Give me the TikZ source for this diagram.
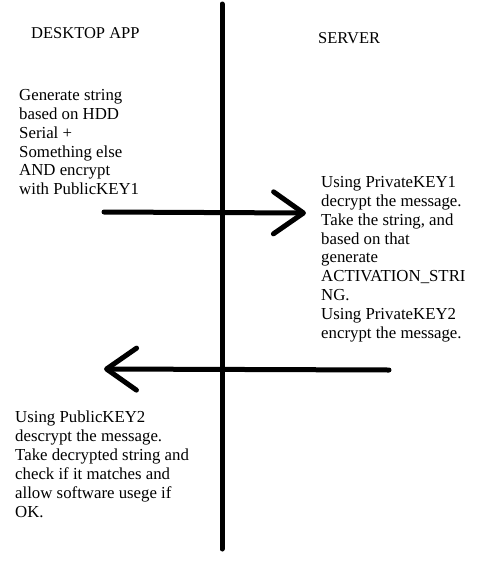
\documentclass[tikz,border=0pt]{standalone}
\usepackage{fontspec}
\setmainfont{Liberation Serif}
\usetikzlibrary{arrows.meta, positioning}
\tikzset{
	txt/.style={anchor=north west, inner sep=0pt, align=left,
		font=\fontsize{16.8}{18.9}\selectfont},
	head/.style={txt, font=\fontsize{16.5}{18}\selectfont},
	bar/.style={line width=5pt, line cap=round},
	msg/.style={bar, -{Straight Barb[length=30pt, width=42pt, line cap=round, line join=round]}}
}

\begin{document}
\begin{tikzpicture}[x=1pt, y=-1pt]
		\useasboundingbox (0,0) rectangle (481,566);
		% the two sides
		\node[head] (app) at (31,27) {DESKTOP APP};
		\node[head] (srv) at (318,32) {SERVER};
		\coordinate (top) at (222,4);
		\coordinate (bot) at (222,549);
		\draw[bar] (top) -- (bot);
		% request
		\node[txt] (gen) at (19,89) {Generate string\\based on HDD\\Serial +\\Something else\\AND encrypt\\with PublicKEY1};
		\coordinate (reqA) at (104,212);
		\coordinate (reqB) at (306,213);
		\draw[msg] (reqA) -- (reqB);
		% answer
		\node[txt] (dec) at (321,176) {Using PrivateKEY1\\decrypt the message.\\Take the string, and\\based on that\\generate\\ACTIVATION\_STRI\\NG.\\Using PrivateKEY2\\encrypt the message.};
		\coordinate (ansA) at (389,370);
		\coordinate (ansB) at (104,369);
		\draw[msg] (ansA) -- (ansB);
		\node[txt] (chk) at (15,411) {Using PublicKEY2\\descrypt the message.\\Take decrypted string and\\check if it matches and\\allow software usege if\\OK.};
\end{tikzpicture}
\end{document}
